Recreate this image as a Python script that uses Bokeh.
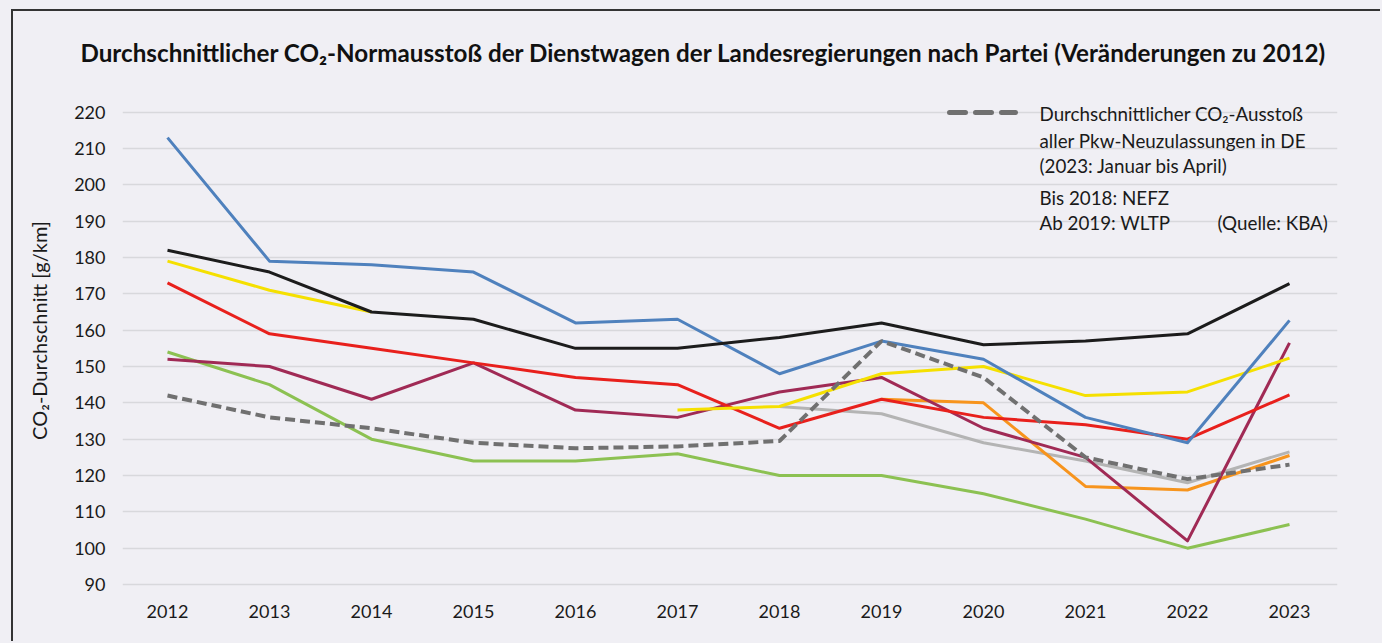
import numpy as np
from bokeh.plotting import figure
from bokeh.models import Label, FixedTicker, Range1d, GlobalInlineStyleSheet
from bokeh.embed import file_html
from bokeh.resources import INLINE

years = [2012, 2013, 2014, 2015, 2016, 2017, 2018, 2019, 2020, 2021, 2022, 2023]
nan = np.nan
blue   = [213, 179, 178, 176, 162, 163, 148, 157, 152, 136, 129, 162.7]
black  = [182, 176, 165, 163, 155, 155, 158, 162, 156, 157, 159, 172.8]
yellow = [179, 171, 165, nan, nan, 138, 139, 148, 150, 142, 143, 152.3]
red    = [173, 159, 155, 151, 147, 145, 133, 141, 136, 134, 130, 142.2]
maroon = [152, 150, 141, 151, 138, 136, 143, 147, 133, 125, 102, 156.5]
green  = [154, 145, 130, 124, 124, 126, 120, 120, 115, 108, 100, 106.5]
kba    = [142, 136, 133, 129, 127.5, 128, 129.5, 157, 147, 125, 119, 123]
lgray  = [nan, nan, nan, nan, nan, nan, 139, 137, 129, 124, 118, 126.5]
orange = [nan, nan, nan, nan, nan, nan, nan, 141, 140, 117, 116, 125.5]
y_ticks = [90, 100, 110, 120, 130, 140, 150, 160, 170, 180, 190, 200, 210, 220]

title_text = "Durchschnittlicher CO\u2082-Normaussto\u00df der Dienstwagen der Landesregierungen nach Partei (Ver\u00e4nderungen zu 2012)"
ylabel_text = "CO\u2082-Durchschnitt [g/km]"
legend_lines = ["Durchschnittlicher CO\u2082-Aussto\u00df", "aller Pkw-Neuzulassungen in DE",
                "(2023: Januar bis April)", "Bis 2018: NEFZ", "Ab 2019: WLTP"]
source_text = "(Quelle: KBA)"

BG = "#f0eff4"
FONT = "Lato"
PW, PH = 1382, 643          # page
OX, OY = 13, 11             # canvas origin on page (after margin + border)
W, H = PW - OX, PH - OY
# page-pixel positions of frame
FL, FR, FT, FB = 122, 1337, 72, 588
# value -> page pixel mapping
X0 = 2012 - (167 - FL) / 102.0
X1 = 2023 + (FR - 1289) / 102.0
PPU = (584 - 111.7) / 130.0
Y0 = 90 - (FB - 584) / PPU
Y1 = 90 + (584 - FT) / PPU

css = GlobalInlineStyleSheet(css="html, body { background-color: %s; margin: 0; padding: 0; overflow: hidden; }" % BG)

p = figure(width=W, height=H, output_backend="svg", toolbar_location=None,
           x_range=Range1d(X0, X1), y_range=Range1d(Y0, Y1),
           min_border_left=FL - OX, min_border_right=PW - FR,
           min_border_top=FT - OY, min_border_bottom=PH - FB,
           background_fill_color=BG, border_fill_color=BG, outline_line_color=None)
p.stylesheets = [css]
p.styles = {"margin-left": "11px", "margin-top": "9px",
            "border-left": "2px solid #333333", "border-top": "2px solid #333333"}

def dx(px):
    return X0 + (px - FL) / (FR - FL) * (X1 - X0)

def dy(py):
    return Y0 + (FB - py) / (FB - FT) * (Y1 - Y0)

p.title.text = title_text
p.title.text_font = FONT
p.title.text_font_size = "24.2px"
p.title.text_font_style = "bold"
p.title.text_color = "#111111"
p.title.align = "left"
p.title.offset = 80 - FL
p.title.standoff = 12

p.xgrid.grid_line_color = None
p.ygrid.grid_line_color = "#d8d8dc"
p.ygrid.grid_line_width = 1.5
p.yaxis.ticker = FixedTicker(ticks=y_ticks)
p.xaxis.ticker = FixedTicker(ticks=years)
for ax in (p.xaxis, p.yaxis):
    ax.axis_line_color = None
    ax.major_tick_line_color = None
    ax.minor_tick_line_color = None
    ax.major_label_text_font = FONT
    ax.major_label_text_font_size = "18px"
    ax.major_label_text_color = "#1a1a1a"
p.yaxis.major_label_standoff = 11
p.xaxis.major_label_standoff = 10
p.yaxis.axis_label = ylabel_text
p.yaxis.axis_label_text_font = FONT
p.yaxis.axis_label_text_font_size = "20px"
p.yaxis.axis_label_text_font_style = "normal"
p.yaxis.axis_label_text_color = "#1a1a1a"
p.yaxis.axis_label_standoff = 20

series = [
    (lgray, "#b4b4b4"), (orange, "#f7941d"), (green, "#8cc152"), (maroon, "#a02a55"),
    (red, "#e8201c"), (yellow, "#f5e000"), (blue, "#4f81bd"), (black, "#1c1c1c"),
]
for vals, col in series:
    p.line(years, np.array(vals, dtype=float), line_color=col, line_width=3, line_join="round")
p.line(years, np.array(kba, dtype=float), line_color="#707070", line_width=4, line_dash="10 5")

# legend sample
p.line([dx(949), dx(1015)], [dy(112), dy(112)], line_color="#707070", line_width=5,
       line_dash="16 10", line_cap="round")
for txt, py in zip(legend_lines, [113, 140, 165, 197, 222]):
    p.add_layout(Label(x=dx(1039), y=dy(py), text=txt, text_font=FONT, text_font_size="18.8px",
                       text_baseline="middle", text_color="#1a1a1a"))
p.add_layout(Label(x=dx(1217), y=dy(222), text=source_text, text_font=FONT, text_font_size="18.8px",
                   text_baseline="middle", text_color="#1a1a1a"))

open("out.html", "w").write(file_html(p, INLINE))
